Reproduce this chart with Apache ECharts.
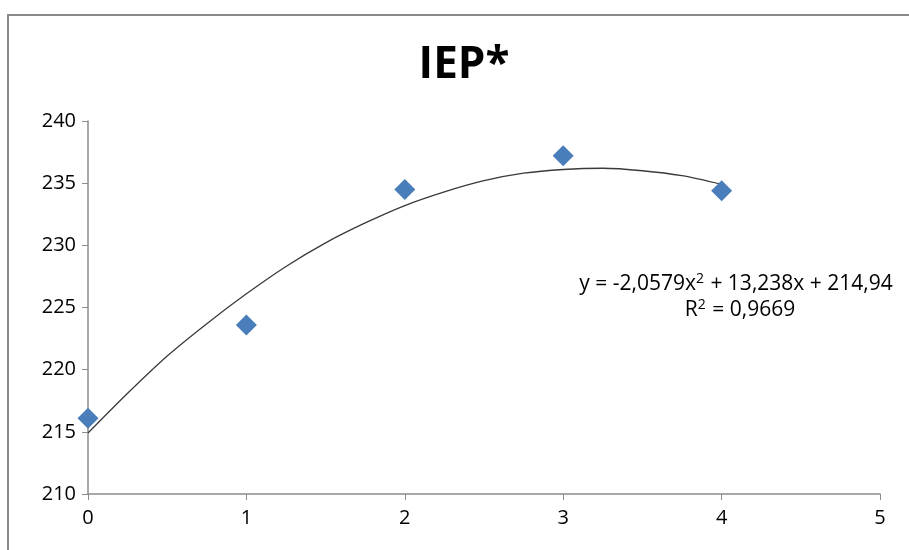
<!DOCTYPE html>
<html><head><meta charset="utf-8">
<script src="https://cdn.jsdelivr.net/npm/echarts@6/dist/echarts.min.js"></script>
<style>html,body{margin:0;padding:0;background:#fff}#c{width:909px;height:550px}</style>
</head><body><div id="c"></div>
<script>
const titleText = 'IEP*';
const xTicks = [0, 1, 2, 3, 4, 5];
const yTicks = [210, 215, 220, 225, 230, 235, 240];
const obsX = [0, 1, 2, 3, 4];
const obsY = [216.1, 223.6, 234.5, 237.2, 234.4];
const trendX = [0, 0.25, 0.5, 0.75, 1, 1.25, 1.5, 1.75, 2, 2.25, 2.5, 2.75, 3, 3.25, 3.5, 3.75, 4];
const trendY = [214.9, 218.1, 221.1, 223.7, 226.1, 228.3, 230.2, 231.8, 233.2, 234.3, 235.2, 235.8, 236.1, 236.2, 236.0, 235.6, 234.9];
const eqLine1 = 'y = -2,0579x{s|2} + 13,238x + 214,94';
const eqLine2 = 'R{s|2} = 0,9669';

const FONT = "'Open Sans', 'Liberation Sans', sans-serif";
const chart = echarts.init(document.getElementById('c'), null, {renderer: 'canvas'});
const sup = {fontSize: 14, padding: [0, 1, 10, 0], fontFamily: 'Open Sans', fill: '#000'};
chart.setOption({
  animation: false,
  backgroundColor: '#fff',
  title: {text: titleText, left: 459, top: 38, textAlign: 'center',
    textStyle: {fontFamily: FONT, fontWeight: 'bold', fontSize: 44, color: '#000'}},
  grid: {left: 88, right: 29, top: 121, bottom: 56},
  xAxis: {type: 'value', min: xTicks[0], max: xTicks[xTicks.length-1], interval: 1,
    axisLine: {lineStyle: {color: '#8c8c8c', width: 1.5}},
    axisTick: {show: true, length: 6, lineStyle: {color: '#8c8c8c'}},
    axisLabel: {fontFamily: FONT, fontSize: 20, color: '#000', margin: 14},
    splitLine: {show: false}},
  yAxis: {type: 'value', min: yTicks[0], max: yTicks[yTicks.length-1], interval: 5,
    axisLine: {show: true, lineStyle: {color: '#8c8c8c', width: 1.5}},
    axisTick: {show: true, length: 6, lineStyle: {color: '#8c8c8c'}},
    axisLabel: {fontFamily: FONT, fontSize: 20, color: '#000', margin: 12},
    splitLine: {show: false}},
  series: [
    {type: 'line', data: trendX.map((x, i) => [x, trendY[i]]), smooth: 0.3, showSymbol: false,
      lineStyle: {color: '#3a3a3a', width: 1.3}, z: 2},
    {type: 'scatter', data: obsX.map((x, i) => [x, obsY[i]]), symbol: 'diamond', symbolSize: [21, 21],
      itemStyle: {color: '#4a7ebb', opacity: 1}, z: 3}
  ],
  graphic: [
    {type: 'rect', shape: {x: 8, y: 15, width: 1000, height: 1000}, style: {fill: 'none', stroke: '#8a8a8a', lineWidth: 2}, z: 0},
    {type: 'text', x: 736, y: 284, style: {text: eqLine1, align: 'center', verticalAlign: 'middle',
      font: '21px ' + FONT, fill: '#000', rich: {s: sup}}},
    {type: 'text', x: 740, y: 310, style: {text: eqLine2, align: 'center', verticalAlign: 'middle',
      font: '21px ' + FONT, fill: '#000', rich: {s: sup}}}
  ]
});
</script></body></html>
